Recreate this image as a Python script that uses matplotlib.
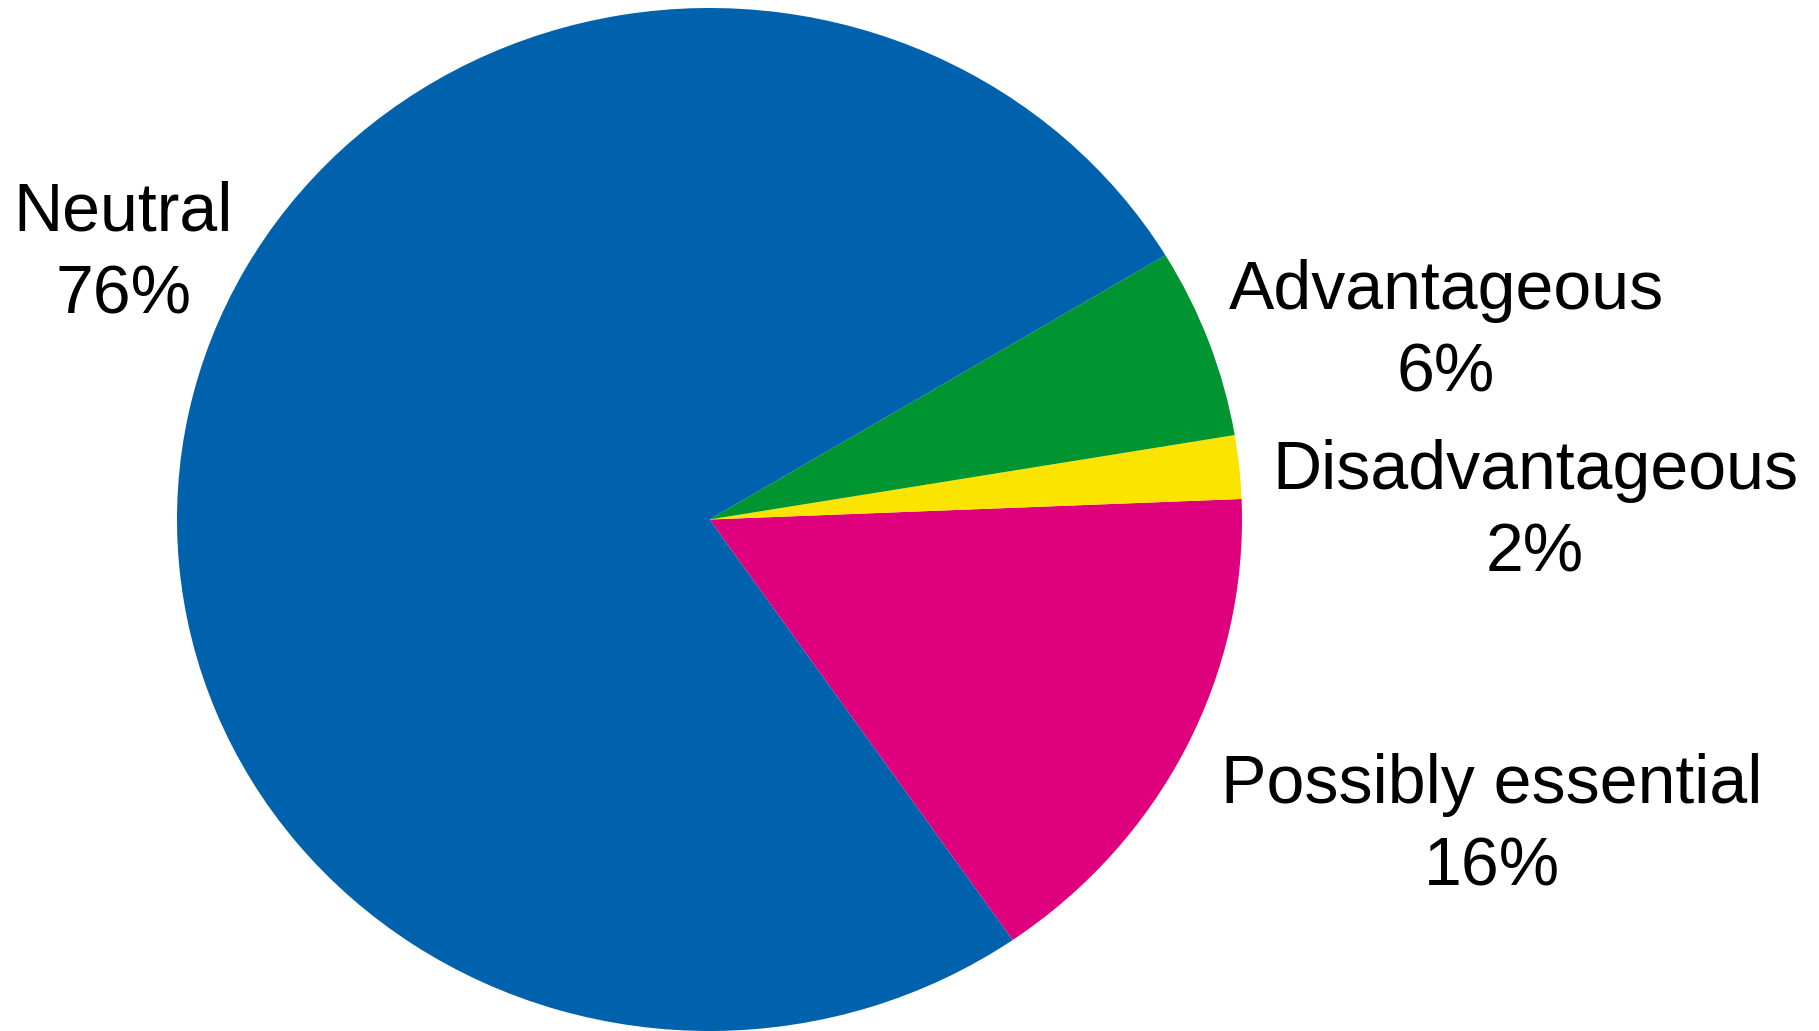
import matplotlib
matplotlib.use("Agg")
import matplotlib.pyplot as plt

# Slice data, drawn counter-clockwise starting from the lower right
categories = ["Possibly essential", "Disadvantageous", "Advantageous", "Neutral"]
shares = [16, 2, 6, 76]
colors = ["#DE007C", "#FAE400", "#009530", "#0062AC"]

W, H = 1819, 1031
fig = plt.figure(figsize=(W / 100, H / 100), dpi=100)
ax = fig.add_axes([0, 0, 1, 1])

ax.pie(shares, colors=colors, startangle=-55.3, counterclock=True,
       radius=1.0, center=(0, 0), wedgeprops=dict(linewidth=0))

# Slightly wider than tall, clipped at the bottom edge of the canvas
cx, cy, rx, ry = 709.5, 519.5, 532.5, 511.5
ax.set_aspect("auto")
ax.set_xlim(-cx / rx, (W - cx) / rx)
ax.set_ylim(-(H - cy) / ry, cy / ry)
ax.axis("off")

# Label anchors (pixel centres of each two-line label)
label_pos = {
    "Neutral": (123, 254),
    "Advantageous": (1446, 332),
    "Disadvantageous": (1535, 512),
    "Possibly essential": (1492, 826),
}
for name, val in zip(categories, shares):
    px, py = label_pos[name]
    ax.text(px / W, 1 - py / H, f"{name}\n{val}%", transform=ax.transAxes,
            ha="center", va="center", multialignment="center",
            fontsize=49, family="Liberation Sans", color="black",
            linespacing=1.37)

fig.savefig("out.png", dpi=100)
